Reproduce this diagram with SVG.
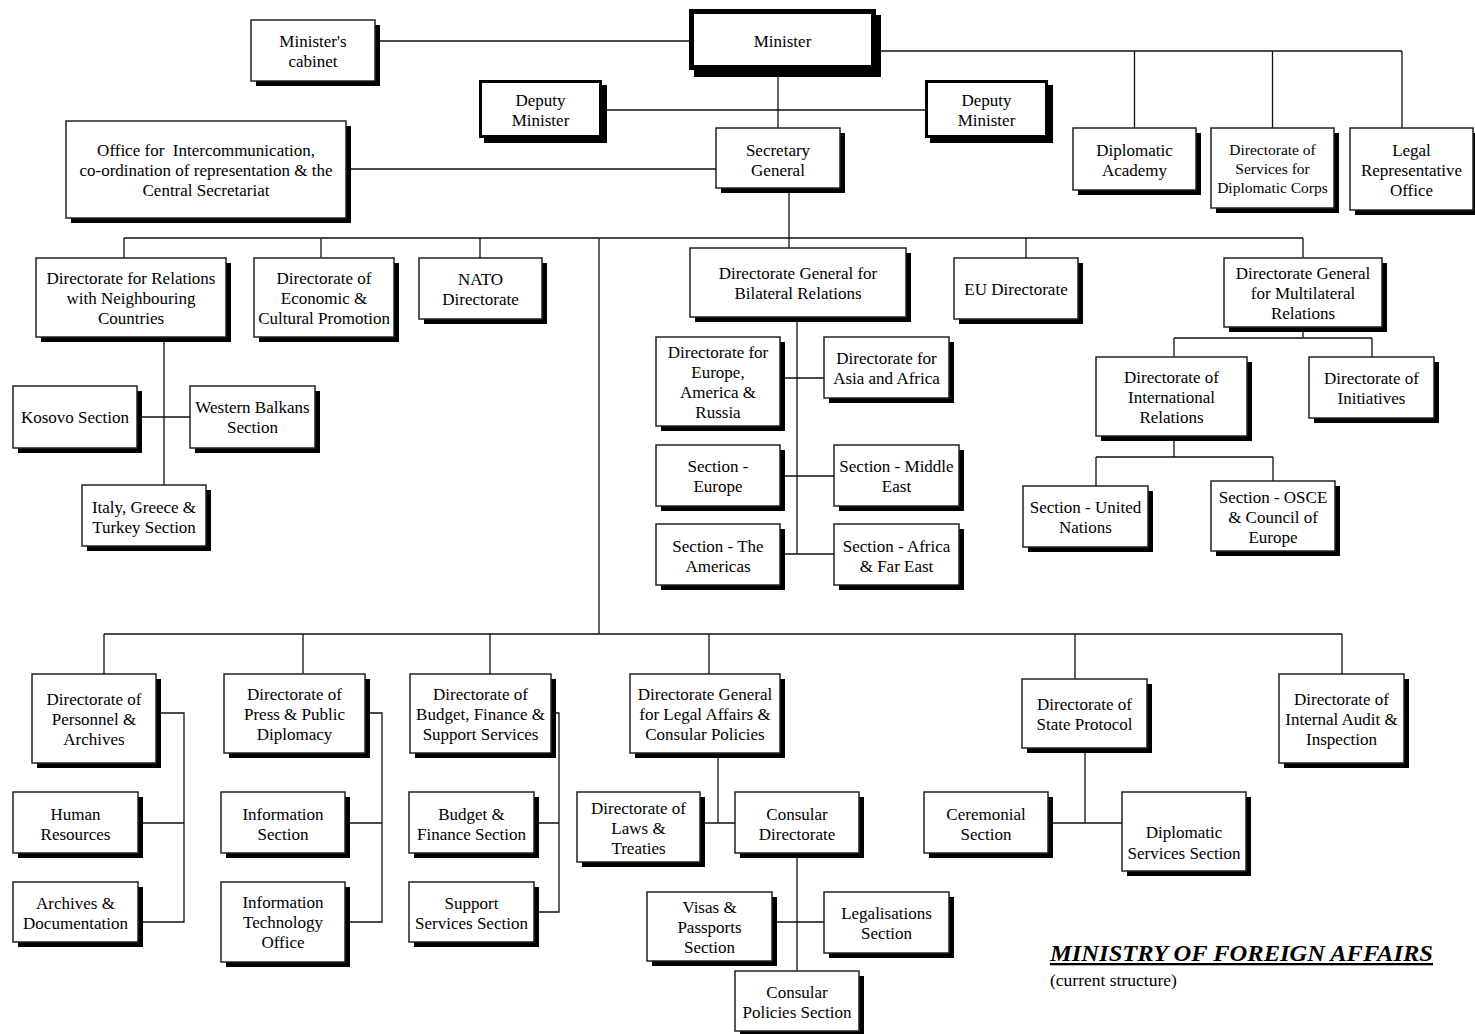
<svg xmlns="http://www.w3.org/2000/svg" width="1475" height="1034" viewBox="0 0 1475 1034">
<style>
.sh{fill:#000}
.bx{fill:#fff;stroke:#222;stroke-width:1.5}
.bx3{fill:#fff;stroke:#000;stroke-width:3}
.bx4{fill:#fff;stroke:#000;stroke-width:5}
.t{font-family:"Liberation Serif","Times New Roman",serif;font-size:17px;fill:#000;text-anchor:middle}
.ts{font-size:15.5px}
.ln{fill:none;stroke:#111;stroke-width:1.3}
</style>
<rect x="0" y="0" width="1475" height="1034" fill="#fff"/>
<g id="connectors" class="ln">
<path d="M375,41H690 M875,51H1402 M1134.5,51V128 M1272.5,51V128 M1402,51V128 M778,68V128 M602,110H925 M346,169H716 M789,188V248"/>
<path d="M124,238H1303 M124,238V258 M321,238V258 M480,238V258 M1026,238V258 M1303,238V258 M599,238V634"/>
<path d="M164,337V485 M137,417H190"/>
<path d="M797,317V554 M780,378H824 M780,476H834 M780,554H834"/>
<path d="M1303,327V338 M1174,338H1372 M1174,338V357 M1372,338V357 M1174,436V457 M1096,457H1273 M1096,457V486 M1273,457V481"/>
<path d="M104,634H1342 M104,634V674 M303,634V674 M490,634V674 M709,634V674 M1075,634V679 M1342,634V674"/>
<path d="M156,713H184V922H138 M138,823H184"/>
<path d="M365,713H382V922H345 M345,823H382"/>
<path d="M551,713H559V912H534 M534,823H559"/>
<path d="M718,753V823 M700,823H735 M797,853V971 M772,922H824"/>
<path d="M1085,748V823 M1048,823H1122"/>
</g>
<g id="n-cabinet"><rect class="sh" x="256" y="25" width="124" height="61"/><rect class="bx" x="251" y="20" width="124" height="61"/><text class="t"><tspan x="313" y="47">Minister's</tspan><tspan x="313" y="67">cabinet</tspan></text></g>
<g id="n-minister"><rect class="sh" x="694" y="15" width="187" height="62"/><rect class="bx4" x="691.5" y="11.5" width="182" height="56"/><text class="t"><tspan x="782.5" y="47">Minister</tspan></text></g>
<g id="n-deputy1"><rect class="sh" x="484" y="85" width="123" height="58"/><rect class="bx3" x="480.5" y="81.5" width="120" height="55"/><text class="t"><tspan x="540.5" y="106">Deputy</tspan><tspan x="540.5" y="126">Minister</tspan></text></g>
<g id="n-deputy2"><rect class="sh" x="930" y="85" width="123" height="58"/><rect class="bx3" x="926.5" y="81.5" width="120" height="55"/><text class="t"><tspan x="986.5" y="106">Deputy</tspan><tspan x="986.5" y="126">Minister</tspan></text></g>
<g id="n-office"><rect class="sh" x="71" y="126" width="280" height="97"/><rect class="bx" x="66" y="121" width="280" height="97"/><text class="t" xml:space="preserve"><tspan x="206" y="156">Office for  Intercommunication,</tspan><tspan x="206" y="176">co-ordination of representation &amp; the</tspan><tspan x="206" y="196">Central Secretariat</tspan></text></g>
<g id="n-secgen"><rect class="sh" x="721" y="133" width="124" height="60"/><rect class="bx" x="716" y="128" width="124" height="60"/><text class="t"><tspan x="778" y="156">Secretary</tspan><tspan x="778" y="176">General</tspan></text></g>
<g id="n-academy"><rect class="sh" x="1078" y="133" width="123" height="62"/><rect class="bx" x="1073" y="128" width="123" height="62"/><text class="t"><tspan x="1134.5" y="156">Diplomatic</tspan><tspan x="1134.5" y="176">Academy</tspan></text></g>
<g id="n-services"><rect class="sh" x="1216" y="133" width="123" height="80"/><rect class="bx" x="1211" y="128" width="123" height="80"/><text class="t ts"><tspan x="1272.5" y="155">Directorate of</tspan><tspan x="1272.5" y="174">Services for</tspan><tspan x="1272.5" y="193">Diplomatic Corps</tspan></text></g>
<g id="n-legalrep"><rect class="sh" x="1355" y="133" width="123" height="82"/><rect class="bx" x="1350" y="128" width="123" height="82"/><text class="t"><tspan x="1411.5" y="156">Legal</tspan><tspan x="1411.5" y="176">Representative</tspan><tspan x="1411.5" y="196">Office</tspan></text></g>
<g id="n-neighbours"><rect class="sh" x="41" y="263" width="190" height="79"/><rect class="bx" x="36" y="258" width="190" height="79"/><text class="t"><tspan x="131" y="284">Directorate for Relations</tspan><tspan x="131" y="304">with Neighbouring</tspan><tspan x="131" y="324">Countries</tspan></text></g>
<g id="n-economic"><rect class="sh" x="259" y="263" width="140" height="79"/><rect class="bx" x="254" y="258" width="140" height="79"/><text class="t"><tspan x="324" y="284">Directorate of</tspan><tspan x="324" y="304">Economic &amp;</tspan><tspan x="324" y="324">Cultural Promotion</tspan></text></g>
<g id="n-nato"><rect class="sh" x="424" y="263" width="123" height="61"/><rect class="bx" x="419" y="258" width="123" height="61"/><text class="t"><tspan x="480.5" y="285">NATO</tspan><tspan x="480.5" y="305">Directorate</tspan></text></g>
<g id="n-dgbilateral"><rect class="sh" x="695" y="253" width="216" height="69"/><rect class="bx" x="690" y="248" width="216" height="69"/><text class="t"><tspan x="798" y="279">Directorate General for</tspan><tspan x="798" y="299">Bilateral Relations</tspan></text></g>
<g id="n-eu"><rect class="sh" x="959" y="263" width="124" height="61"/><rect class="bx" x="954" y="258" width="124" height="61"/><text class="t"><tspan x="1016" y="295">EU Directorate</tspan></text></g>
<g id="n-dgmulti"><rect class="sh" x="1229" y="263" width="158" height="69"/><rect class="bx" x="1224" y="258" width="158" height="69"/><text class="t"><tspan x="1303" y="279">Directorate General</tspan><tspan x="1303" y="299">for Multilateral</tspan><tspan x="1303" y="319">Relations</tspan></text></g>
<g id="n-kosovo"><rect class="sh" x="18" y="391" width="124" height="62"/><rect class="bx" x="13" y="386" width="124" height="62"/><text class="t"><tspan x="75" y="423">Kosovo Section</tspan></text></g>
<g id="n-wbalkans"><rect class="sh" x="195" y="391" width="125" height="62"/><rect class="bx" x="190" y="386" width="125" height="62"/><text class="t"><tspan x="252.5" y="413">Western Balkans</tspan><tspan x="252.5" y="433">Section</tspan></text></g>
<g id="n-italy"><rect class="sh" x="87" y="490" width="124" height="61"/><rect class="bx" x="82" y="485" width="124" height="61"/><text class="t"><tspan x="144" y="513">Italy, Greece &amp;</tspan><tspan x="144" y="533">Turkey Section</tspan></text></g>
<g id="n-europe-am"><rect class="sh" x="661" y="342" width="124" height="89"/><rect class="bx" x="656" y="337" width="124" height="89"/><text class="t"><tspan x="718" y="358">Directorate for</tspan><tspan x="718" y="378">Europe,</tspan><tspan x="718" y="398">America &amp;</tspan><tspan x="718" y="418">Russia</tspan></text></g>
<g id="n-asia"><rect class="sh" x="829" y="342" width="125" height="61"/><rect class="bx" x="824" y="337" width="125" height="61"/><text class="t"><tspan x="886.5" y="364">Directorate for</tspan><tspan x="886.5" y="384">Asia and Africa</tspan></text></g>
<g id="n-seceurope"><rect class="sh" x="661" y="450" width="124" height="61"/><rect class="bx" x="656" y="445" width="124" height="61"/><text class="t"><tspan x="718" y="472">Section -</tspan><tspan x="718" y="492">Europe</tspan></text></g>
<g id="n-secme"><rect class="sh" x="839" y="450" width="125" height="61"/><rect class="bx" x="834" y="445" width="125" height="61"/><text class="t"><tspan x="896.5" y="472">Section - Middle</tspan><tspan x="896.5" y="492">East</tspan></text></g>
<g id="n-secam"><rect class="sh" x="661" y="529" width="124" height="61"/><rect class="bx" x="656" y="524" width="124" height="61"/><text class="t"><tspan x="718" y="552">Section - The</tspan><tspan x="718" y="572">Americas</tspan></text></g>
<g id="n-secafr"><rect class="sh" x="839" y="529" width="125" height="61"/><rect class="bx" x="834" y="524" width="125" height="61"/><text class="t"><tspan x="896.5" y="552">Section - Africa</tspan><tspan x="896.5" y="572">&amp; Far East</tspan></text></g>
<g id="n-intlrel"><rect class="sh" x="1101" y="362" width="151" height="79"/><rect class="bx" x="1096" y="357" width="151" height="79"/><text class="t"><tspan x="1171.5" y="383">Directorate of</tspan><tspan x="1171.5" y="403">International</tspan><tspan x="1171.5" y="423">Relations</tspan></text></g>
<g id="n-initiatives"><rect class="sh" x="1314" y="362" width="125" height="61"/><rect class="bx" x="1309" y="357" width="125" height="61"/><text class="t"><tspan x="1371.5" y="384">Directorate of</tspan><tspan x="1371.5" y="404">Initiatives</tspan></text></g>
<g id="n-un"><rect class="sh" x="1028" y="491" width="125" height="61"/><rect class="bx" x="1023" y="486" width="125" height="61"/><text class="t"><tspan x="1085.5" y="513">Section - United</tspan><tspan x="1085.5" y="533">Nations</tspan></text></g>
<g id="n-osce"><rect class="sh" x="1216" y="486" width="124" height="70"/><rect class="bx" x="1211" y="481" width="124" height="70"/><text class="t"><tspan x="1273" y="503">Section - OSCE</tspan><tspan x="1273" y="523">&amp; Council of</tspan><tspan x="1273" y="543">Europe</tspan></text></g>
<g id="n-personnel"><rect class="sh" x="37" y="679" width="124" height="89"/><rect class="bx" x="32" y="674" width="124" height="89"/><text class="t"><tspan x="94" y="705">Directorate of</tspan><tspan x="94" y="725">Personnel &amp;</tspan><tspan x="94" y="745">Archives</tspan></text></g>
<g id="n-hr"><rect class="sh" x="18" y="797" width="125" height="61"/><rect class="bx" x="13" y="792" width="125" height="61"/><text class="t"><tspan x="75.5" y="820">Human</tspan><tspan x="75.5" y="840">Resources</tspan></text></g>
<g id="n-archives"><rect class="sh" x="18" y="887" width="125" height="60"/><rect class="bx" x="13" y="882" width="125" height="60"/><text class="t"><tspan x="75.5" y="909">Archives &amp;</tspan><tspan x="75.5" y="929">Documentation</tspan></text></g>
<g id="n-press"><rect class="sh" x="229" y="679" width="141" height="79"/><rect class="bx" x="224" y="674" width="141" height="79"/><text class="t"><tspan x="294.5" y="700">Directorate of</tspan><tspan x="294.5" y="720">Press &amp; Public</tspan><tspan x="294.5" y="740">Diplomacy</tspan></text></g>
<g id="n-infosec"><rect class="sh" x="226" y="797" width="124" height="61"/><rect class="bx" x="221" y="792" width="124" height="61"/><text class="t"><tspan x="283" y="820">Information</tspan><tspan x="283" y="840">Section</tspan></text></g>
<g id="n-it"><rect class="sh" x="226" y="887" width="124" height="80"/><rect class="bx" x="221" y="882" width="124" height="80"/><text class="t"><tspan x="283" y="908">Information</tspan><tspan x="283" y="928">Technology</tspan><tspan x="283" y="948">Office</tspan></text></g>
<g id="n-budgetdir"><rect class="sh" x="415" y="679" width="141" height="79"/><rect class="bx" x="410" y="674" width="141" height="79"/><text class="t"><tspan x="480.5" y="700">Directorate of</tspan><tspan x="480.5" y="720">Budget, Finance &amp;</tspan><tspan x="480.5" y="740">Support Services</tspan></text></g>
<g id="n-budgetfin"><rect class="sh" x="414" y="797" width="125" height="61"/><rect class="bx" x="409" y="792" width="125" height="61"/><text class="t"><tspan x="471.5" y="820">Budget &amp;</tspan><tspan x="471.5" y="840">Finance Section</tspan></text></g>
<g id="n-support"><rect class="sh" x="414" y="887" width="125" height="60"/><rect class="bx" x="409" y="882" width="125" height="60"/><text class="t"><tspan x="471.5" y="909">Support</tspan><tspan x="471.5" y="929">Services Section</tspan></text></g>
<g id="n-dglegal"><rect class="sh" x="635" y="679" width="150" height="79"/><rect class="bx" x="630" y="674" width="150" height="79"/><text class="t"><tspan x="705" y="700">Directorate General</tspan><tspan x="705" y="720">for Legal Affairs &amp;</tspan><tspan x="705" y="740">Consular Policies</tspan></text></g>
<g id="n-laws"><rect class="sh" x="582" y="797" width="123" height="70"/><rect class="bx" x="577" y="792" width="123" height="70"/><text class="t"><tspan x="638.5" y="814">Directorate of</tspan><tspan x="638.5" y="834">Laws &amp;</tspan><tspan x="638.5" y="854">Treaties</tspan></text></g>
<g id="n-consdir"><rect class="sh" x="740" y="797" width="124" height="61"/><rect class="bx" x="735" y="792" width="124" height="61"/><text class="t"><tspan x="797" y="820">Consular</tspan><tspan x="797" y="840">Directorate</tspan></text></g>
<g id="n-visas"><rect class="sh" x="652" y="897" width="125" height="69"/><rect class="bx" x="647" y="892" width="125" height="69"/><text class="t"><tspan x="709.5" y="913">Visas &amp;</tspan><tspan x="709.5" y="933">Passports</tspan><tspan x="709.5" y="953">Section</tspan></text></g>
<g id="n-legalis"><rect class="sh" x="829" y="897" width="125" height="61"/><rect class="bx" x="824" y="892" width="125" height="61"/><text class="t"><tspan x="886.5" y="919">Legalisations</tspan><tspan x="886.5" y="939">Section</tspan></text></g>
<g id="n-conspol"><rect class="sh" x="740" y="976" width="124" height="60"/><rect class="bx" x="735" y="971" width="124" height="60"/><text class="t"><tspan x="797" y="998">Consular</tspan><tspan x="797" y="1018">Policies Section</tspan></text></g>
<g id="n-stateprot"><rect class="sh" x="1027" y="684" width="125" height="69"/><rect class="bx" x="1022" y="679" width="125" height="69"/><text class="t"><tspan x="1084.5" y="710">Directorate of</tspan><tspan x="1084.5" y="730">State Protocol</tspan></text></g>
<g id="n-ceremonial"><rect class="sh" x="929" y="797" width="124" height="61"/><rect class="bx" x="924" y="792" width="124" height="61"/><text class="t"><tspan x="986" y="820">Ceremonial</tspan><tspan x="986" y="840">Section</tspan></text></g>
<g id="n-diplservsec"><rect class="sh" x="1127" y="797" width="124" height="79"/><rect class="bx" x="1122" y="792" width="124" height="79"/><text class="t"><tspan x="1184" y="838">Diplomatic</tspan><tspan x="1184" y="859">Services Section</tspan></text></g>
<g id="n-audit"><rect class="sh" x="1284" y="679" width="125" height="89"/><rect class="bx" x="1279" y="674" width="125" height="89"/><text class="t"><tspan x="1341.5" y="705">Directorate of</tspan><tspan x="1341.5" y="725">Internal Audit &amp;</tspan><tspan x="1341.5" y="745">Inspection</tspan></text></g>
<g id="title">
<text x="1050" y="961" font-family="&quot;Liberation Serif&quot;,&quot;Times New Roman&quot;,serif" font-size="23" font-weight="bold" font-style="italic" text-decoration="underline" textLength="383" lengthAdjust="spacingAndGlyphs">MINISTRY OF FOREIGN AFFAIRS</text>
<text x="1050" y="986" font-family="&quot;Liberation Serif&quot;,&quot;Times New Roman&quot;,serif" font-size="17.5">(current structure)</text>
</g>
</svg>
